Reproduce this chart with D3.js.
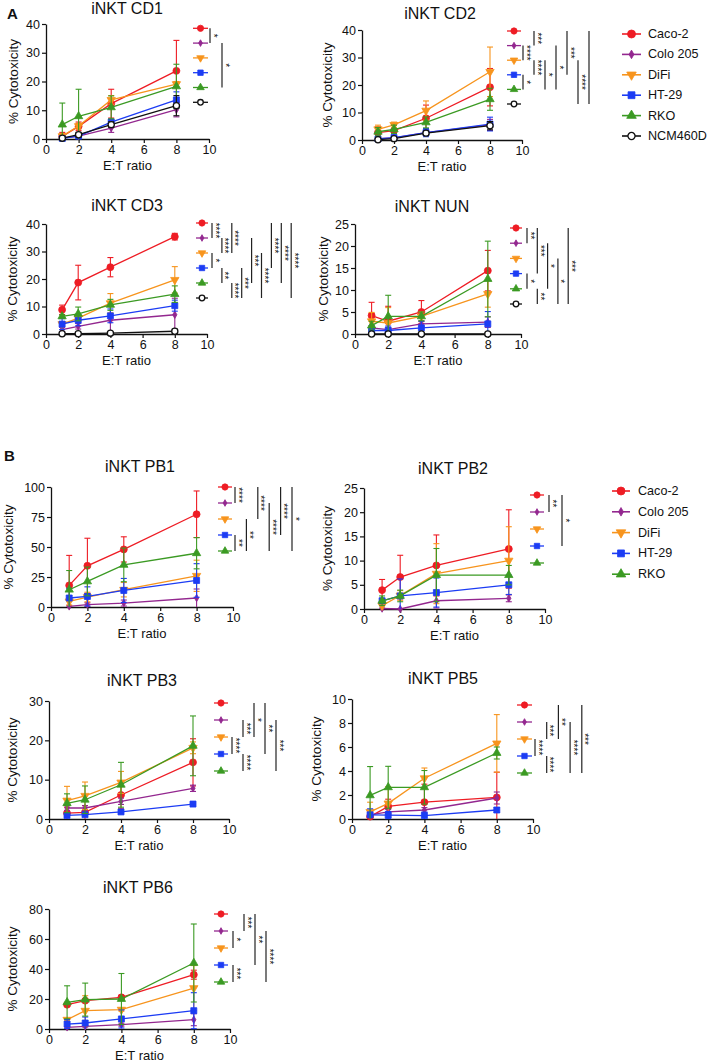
<!DOCTYPE html>
<html><head><meta charset="utf-8">
<script src="https://cdn.jsdelivr.net/npm/d3@7"></script>
<style>
body{margin:0;background:#fff}
svg{display:block}
text{font-family:"Liberation Sans",Arial,Helvetica,sans-serif;fill:#111}
</style>
</head><body>
<svg id="chart" width="709" height="1062"></svg>
<script>
// ---------- data ----------
const etRatio = [1, 2, 4, 8];
const xTicks = [0, 2, 4, 6, 8, 10];
const cellLinesA = ["Caco-2", "Colo 205", "DiFi", "HT-29", "RKO", "NCM460D"];
const cellLinesB = ["Caco-2", "Colo 205", "DiFi", "HT-29", "RKO"];
const lineColors = ["#ee1c24", "#93278f", "#f7941d", "#1c3cf4", "#3b9a23", "#111111"];
const markerShapes = ["circle", "diamond", "triDown", "square", "triUp", "openCircle"];

const yTicksCD = [0, 10, 20, 30, 40];
const yTicksNUN = [0, 5, 10, 15, 20, 25];
const yTicksPB1 = [0, 25, 50, 75, 100];
const yTicksPB2 = [0, 5, 10, 15, 20, 25];
const yTicksPB3 = [0, 10, 20, 30];
const yTicksPB5 = [0, 2, 4, 6, 8, 10];
const yTicksPB6 = [0, 20, 40, 60, 80];

const cd1Mean = [[0.9,4.4,12.3,23.7],[0.3,1.0,3.8,10.2],[1.0,4.5,13.6,19.1],[0.2,1.0,5.9,13.6],[5.0,7.9,11.0,18.3],[0.3,1.5,5.0,11.6]];
const cd1Err  = [[1.4,1.5,5.0,10.6],[0.3,0.5,1.5,2.5],[0.8,1.0,1.5,0.9],[0.3,0.6,1.0,2.8],[7.5,9.4,4.0,7.7],[0.3,0.8,1.0,3.5]];
const cd2Mean = [[2.7,3.4,7.9,19.2],[0.5,0.8,2.7,5.5],[3.9,5.5,10.7,24.8],[0.4,0.9,2.7,5.8],[3.0,3.9,6.4,14.8],[0.1,0.5,2.5,5.2]];
const cd2Err  = [[2.1,2.4,4.8,6.8],[0.5,0.5,1.0,2.0],[1.5,1.0,3.5,9.0],[0.4,0.6,1.5,2.5],[1.5,1.5,2.0,4.0],[0.1,0.3,0.8,1.5]];
const cd3Mean = [[8.8,18.7,24.3,35.4],[1.6,2.8,5.0,7.0],[3.6,5.8,11.2,19.7],[3.6,5.0,6.6,10.3],[6.4,7.3,10.6,14.5],[0.1,0.1,0.3,1.0]];
const cd3Err  = [[1.7,6.3,3.5,1.2],[0.8,1.0,5.0,6.0],[0.8,1.0,3.5,4.8],[2.0,2.0,2.5,2.0],[0.5,2.5,2.0,3.0],[0.1,0.1,0.2,0.8]];
const nunMean = [[4.2,2.9,5.0,14.4],[1.4,1.0,2.3,2.7],[2.9,2.5,4.0,9.1],[0.8,0.8,1.4,2.3],[1.9,4.0,4.0,12.5],[0,0,0,0]];
const nunErr  = [[3.0,3.4,2.6,4.6],[0.5,0.5,0.6,1.2],[2.0,3.5,1.0,3.0],[1.0,1.0,1.5,2.8],[1.0,4.8,1.0,8.6],[0,0,0,0]];
const pb1Mean = [[18,34.3,48,77.3],[0.5,2,3.3,7.5],[4.7,8.3,14.4,26],[7.5,8.8,13.8,22.1],[14.4,21.3,35.1,44.8]];
const pb1Err  = [[25,23,10.5,19.4],[0.5,1.5,2.5,7.5],[3,4,6,13],[8,8,10,14],[16,12,14,13]];
const pb2Mean = [[3.9,6.6,9.0,12.4],[0.1,0.0,1.7,2.2],[0.7,2.8,7.3,10.0],[1.7,2.7,3.4,5.0],[1.7,2.7,7.0,7.0]];
const pb2Err  = [[2.2,4.5,6.3,8.1],[0.1,0.1,1.5,0.7],[0.8,1.0,6.2,7.0],[0.5,3.5,3.0,2.0],[1.0,1.2,5.5,2.0]];
const pb3Mean = [[1.5,1.7,6.1,14.4],[2.8,2.8,4.5,7.8],[4.7,5.9,9.3,18.1],[0.9,1.1,1.8,3.8],[4.0,4.9,8.7,18.6]];
const pb3Err  = [[1.5,1.7,3.5,6.0],[0.6,0.6,0.8,0.8],[3.6,3.5,2.8,1.5],[0.3,0.4,0.4,0.6],[2.4,3.5,5.7,7.6]];
const pb5Mean = [[0.2,1.05,1.4,1.8],[0.35,0.6,0.75,1.75],[0.6,1.3,3.4,6.3],[0.35,0.33,0.28,0.75],[1.97,2.64,2.64,5.5]];
const pb5Err  = [[0.2,0.6,1.5,2.1],[0.2,0.2,0.2,0.5],[0.8,1.4,0.85,2.4],[0.5,0.3,0.3,0.2],[2.4,1.75,1.4,0.5]];
const pb6Mean = [[16.2,18.9,21.1,36.2],[1.1,1.8,2.9,6.2],[6.2,12.2,12.9,27.3],[3.3,4.0,6.7,12.2],[17.8,19.6,20,44]];
const pb6Err  = [[1,1,1,3],[0.5,0.5,1,4],[1,10,1,15],[3,4,6,12],[11,11,17,26]];

// significance bars: [fromRow, toRow, column, label]
const cd1Sig = [[0,1,0,"*"],[1,4,1,"*"]];
const cd2Sig = [[1,2,0,"****"],[3,4,0,"*"],[0,1,1,"***"],[2,3,1,"****"],[2,4,2,"*"],[1,4,3,"*"],[0,3,4,"***"],[2,5,5,"****"],[0,5,6,""]];
const cd3Sig = [[0,1,0,"****"],[2,3,0,"*"],[1,2,1,"****"],[3,4,1,"**"],[0,2,2,"****"],[4,5,2,"****"],[3,5,3,"***"],[1,4,4,"***"],[2,5,5,"****"],[0,3,6,"****"],[0,4,7,"****"],[0,5,8,"****"]];
const nunSig = [[0,1,0,"**"],[3,4,0,"*"],[0,3,1,"***"],[4,5,1,"**"],[1,4,2,"*"],[2,5,3,"*"],[0,5,4,"***"]];
const pb1Sig = [[0,1,0,"****"],[3,4,0,"**"],[2,4,1,"**"],[0,2,2,"****"],[1,4,3,"****"],[0,3,4,"****"],[0,4,5,"*"]];
const pb2Sig = [[0,1,0,"**"],[0,3,1,"*"]];
const pb3Sig = [[2,3,0,"****"],[1,2,1,"***"],[3,4,1,"****"],[0,2,2,"*"],[0,3,3,"**"],[1,4,4,"***"]];
const pb5Sig = [[2,3,0,"****"],[1,2,1,"***"],[3,4,1,"****"],[0,2,2,"**"],[1,4,3,"****"],[0,4,4,"***"]];
const pb6Sig = [[1,2,0,"*"],[3,4,0,"***"],[0,1,1,"***"],[0,3,2,"**"],[1,4,3,"****"]];

// ---------- layout ----------
const panels = [
  {title:"iNKT CD1", mean:cd1Mean, err:cd1Err, sig:cd1Sig, yMax:40, yTicks:yTicksCD,
   L:46, R:209, T:24, B:139, tx:127, ty:14, ylx:13, lx0:193, lx1:208, ly0:28.3, lstep:14.8, sx0:210, sstep:12},
  {title:"iNKT CD2", mean:cd2Mean, err:cd2Err, sig:cd2Sig, yMax:40, yTicks:yTicksCD,
   L:362, R:522, T:30, B:140, tx:440, ty:19, ylx:327, lx0:507, lx1:521, ly0:31, lstep:14.6, sx0:523, sstep:11},
  {title:"iNKT CD3", mean:cd3Mean, err:cd3Err, sig:cd3Sig, yMax:40, yTicks:yTicksCD,
   L:46, R:207, T:224, B:334, tx:127, ty:211, ylx:12, lx0:196, lx1:208, ly0:223, lstep:15, sx0:212, sstep:9.9},
  {title:"iNKT NUN", mean:nunMean, err:nunErr, sig:nunSig, yMax:25, yTicks:yTicksNUN,
   L:355, R:521, T:224, B:334, tx:432, ty:212, ylx:323, lx0:510, lx1:522, ly0:228, lstep:15.2, sx0:527, sstep:10.3},
  {title:"iNKT PB1", mean:pb1Mean, err:pb1Err, sig:pb1Sig, yMax:100, yTicks:yTicksPB1,
   L:51, R:233, T:487, B:607, tx:140, ty:472, ylx:8, lx0:218, lx1:232, ly0:487, lstep:16, sx0:235, sstep:11.4},
  {title:"iNKT PB2", mean:pb2Mean, err:pb2Err, sig:pb2Sig, yMax:25, yTicks:yTicksPB2,
   L:364, R:545, T:488, B:609, tx:453, ty:474, ylx:327, lx0:530, lx1:544, ly0:495, lstep:17, sx0:549, sstep:13},
  {title:"iNKT PB3", mean:pb3Mean, err:pb3Err, sig:pb3Sig, yMax:30, yTicks:yTicksPB3,
   L:49, R:229, T:701, B:819, tx:142, ty:686, ylx:12, lx0:214, lx1:228, ly0:703, lstep:17, sx0:232, sstep:11},
  {title:"iNKT PB5", mean:pb5Mean, err:pb5Err, sig:pb5Sig, yMax:10, yTicks:yTicksPB5,
   L:352, R:533, T:699, B:819, tx:443, ty:684, ylx:316, lx0:517, lx1:532, ly0:705, lstep:17, sx0:535, sstep:11.7},
  {title:"iNKT PB6", mean:pb6Mean, err:pb6Err, sig:pb6Sig, yMax:80, yTicks:yTicksPB6,
   L:49, R:230, T:909, B:1029, tx:138, ty:893, ylx:12, lx0:214, lx1:228, ly0:914, lstep:17, sx0:233, sstep:11},
];

const svg = d3.select("#chart");

function drawMarker(g, shape, color, x, y, scale) {
  scale = scale || 1;
  let sym, size, rot = 0, fill = color, stroke = color, sw = 0.8;
  if (shape === "circle") { sym = d3.symbolCircle; size = 38; }
  else if (shape === "diamond") { sym = d3.symbolDiamond; size = 16; }
  else if (shape === "triDown") { sym = d3.symbolTriangle; size = 30; rot = 180; }
  else if (shape === "square") { sym = d3.symbolSquare; size = 36; }
  else if (shape === "triUp") { sym = d3.symbolTriangle; size = 30; }
  else { sym = d3.symbolCircle; size = 30; fill = "#fff"; sw = 1.3; }
  g.append("path")
    .attr("d", d3.symbol().type(sym).size(size * scale * scale)())
    .attr("transform", `translate(${x},${y}) rotate(${rot})`)
    .attr("fill", fill).attr("stroke", stroke).attr("stroke-width", sw);
}

panels.forEach(p => {
  const g = svg.append("g");
  const x = d3.scaleLinear().domain([0, 10]).range([p.L, p.R]);
  const y = d3.scaleLinear().domain([0, p.yMax]).range([p.B, p.T]);

  // axes
  const ax = g.append("g").attr("transform", `translate(0,${p.B})`)
    .call(d3.axisBottom(x).tickValues(xTicks).tickSize(4).tickSizeOuter(0).tickPadding(2));
  const ay = g.append("g").attr("transform", `translate(${p.L},0)`)
    .call(d3.axisLeft(y).tickValues(p.yTicks).tickSize(4).tickSizeOuter(0).tickPadding(2));
  [ax, ay].forEach(a => {
    a.select(".domain").attr("stroke", "#111").attr("stroke-width", 1.3);
    a.selectAll(".tick line").attr("stroke", "#111").attr("stroke-width", 1.2);
    a.selectAll(".tick text").attr("font-size", 12.5).attr("fill", "#111")
      .style("font-family", '"Liberation Sans", Arial, sans-serif');
  });

  // titles & labels
  g.append("text").attr("x", p.tx).attr("y", p.ty).attr("text-anchor", "middle")
    .attr("font-size", 16).text(p.title);
  g.append("text").attr("x", (p.L + p.R) / 2).attr("y", p.B + 31).attr("text-anchor", "middle")
    .attr("font-size", 13).text("E:T ratio");
  g.append("text").attr("transform", `translate(${p.ylx},${(p.T + p.B) / 2}) rotate(-90)`)
    .attr("text-anchor", "middle").attr("dominant-baseline", "central")
    .attr("font-size", 13.5).text("% Cytotoxicity");

  // series
  p.mean.forEach((vals, si) => {
    const col = lineColors[si];
    const errs = p.err[si];
    const sg = g.append("g");
    vals.forEach((v, i) => {
      const e = errs[i];
      if (e <= 0) return;
      const xx = x(etRatio[i]);
      const y1 = y(Math.min(p.yMax, v + e)), y0 = y(Math.max(0, v - e));
      sg.append("line").attr("x1", xx).attr("x2", xx).attr("y1", y0).attr("y2", y1)
        .attr("stroke", col).attr("stroke-width", 1.1);
      sg.append("line").attr("x1", xx - 3).attr("x2", xx + 3).attr("y1", y1).attr("y2", y1)
        .attr("stroke", col).attr("stroke-width", 1.1);
      if (v - e > 0) sg.append("line").attr("x1", xx - 3).attr("x2", xx + 3).attr("y1", y0).attr("y2", y0)
        .attr("stroke", col).attr("stroke-width", 1.1);
    });
    const line = d3.line().x((d, i) => x(etRatio[i])).y(d => y(d));
    sg.append("path").datum(vals).attr("d", line).attr("fill", "none")
      .attr("stroke", col).attr("stroke-width", 1.3);
    vals.forEach((v, i) => drawMarker(sg, markerShapes[si], col, x(etRatio[i]), y(v)));

    // mini legend
    const ly = p.ly0 + si * p.lstep;
    g.append("line").attr("x1", p.lx0).attr("x2", p.lx1).attr("y1", ly).attr("y2", ly)
      .attr("stroke", col).attr("stroke-width", 1.3);
    drawMarker(g, markerShapes[si], col, (p.lx0 + p.lx1) / 2, ly, 0.9);
  });

  // significance bars
  p.sig.forEach(s => {
    const bx = p.sx0 + s[2] * p.sstep;
    const ya = p.ly0 + s[0] * p.lstep, yb = p.ly0 + s[1] * p.lstep;
    g.append("line").attr("x1", bx).attr("x2", bx).attr("y1", ya).attr("y2", yb)
      .attr("stroke", "#222").attr("stroke-width", 1.2);
    if (s[3]) g.append("text").attr("transform", `translate(${bx - 0.5},${(ya + yb) / 2}) rotate(90)`)
      .attr("text-anchor", "middle").attr("font-size", 10).text(s[3]);
  });
});

// panel letters
svg.append("text").attr("x", 7).attr("y", 19).attr("font-size", 15).attr("font-weight", "bold").text("A");
svg.append("text").attr("x", 4).attr("y", 461).attr("font-size", 15).attr("font-weight", "bold").text("B");

// big legends
function bigLegend(names, x0, x1, tx, y0, step) {
  names.forEach((n, i) => {
    const yy = y0 + i * step;
    svg.append("line").attr("x1", x0).attr("x2", x1).attr("y1", yy).attr("y2", yy)
      .attr("stroke", lineColors[i]).attr("stroke-width", 1.6);
    drawMarker(svg, markerShapes[i], lineColors[i], (x0 + x1) / 2, yy, 1.15);
    svg.append("text").attr("x", tx).attr("y", yy).attr("dominant-baseline", "central")
      .attr("font-size", 12.6).text(n);
  });
}
bigLegend(cellLinesA, 622, 641, 648, 34, 20.4);
bigLegend(cellLinesB, 612, 630, 638, 491, 20.8);
</script>
</body></html>
